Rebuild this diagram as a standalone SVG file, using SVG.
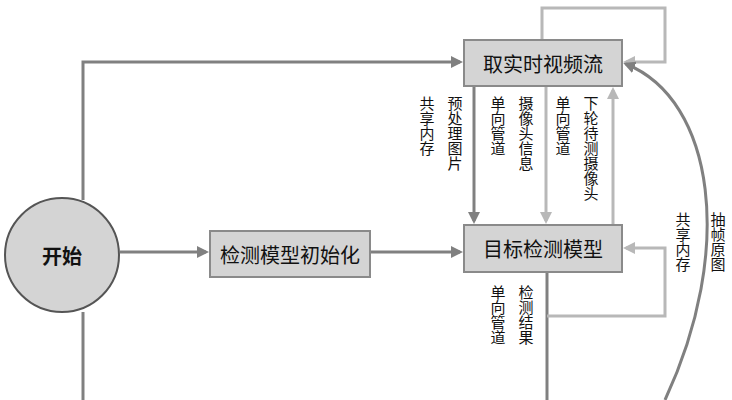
<svg xmlns="http://www.w3.org/2000/svg" width="732" height="400" viewBox="0 0 732 400">
<style>
.box{fill:#d4d4d4;stroke:#8a8a8a;stroke-width:2}
.t{font-family:"Noto Sans CJK SC",sans-serif;font-size:20px;fill:#111;text-anchor:middle;dominant-baseline:central}
.v{font-family:"Noto Sans CJK SC",sans-serif;font-size:15px;fill:#111;writing-mode:vertical-rl;text-orientation:upright}
.d{stroke:#808080;stroke-width:3;fill:none}
.l{stroke:#b8b8b8;stroke-width:3;fill:none}
</style>
<defs>
<marker id="ad" markerWidth="4" markerHeight="4" refX="3" refY="2" orient="auto"><path d="M0,0L4,2L0,4z" fill="#808080"/></marker>
<marker id="al" markerWidth="4" markerHeight="4" refX="3" refY="2" orient="auto"><path d="M0,0L4,2L0,4z" fill="#b8b8b8"/></marker>
</defs>
<rect width="732" height="400" fill="#fff"/>
<g id="connectors">
<path class="d" d="M83,200V62H460" marker-end="url(#ad)"/>
<path class="d" d="M83,312V400"/>
<path class="d" d="M120,252H206" marker-end="url(#ad)"/>
<path class="d" d="M370,252H460" marker-end="url(#ad)"/>
<path class="l" d="M542,40V8H665V62H626" marker-end="url(#al)"/>
<path class="d" d="M474,86V221" marker-end="url(#ad)"/>
<path class="l" d="M546,86V221" marker-end="url(#al)"/>
<path class="l" d="M613,225V90" marker-end="url(#al)"/>
<path class="d" d="M547,272V400"/>
<path class="l" d="M547,316H665V248H626" marker-end="url(#al)"/>
<path class="d" d="M665,400C735,250 715,100 626,64" marker-end="url(#ad)"/>
</g>
<g id="start"><circle cx="62" cy="255" r="57" fill="#d4d4d4" stroke="#555" stroke-width="2"/><text class="t" x="62" y="255" font-weight="bold" font-size="22">开始</text></g>
<g id="init"><rect class="box" x="210" y="231" width="160" height="46"/><text class="t" x="290" y="254">检测模型初始化</text></g>
<g id="stream"><rect class="box" x="464" y="40" width="158" height="46"/><text class="t" x="543" y="63">取实时视频流</text></g>
<g id="detect"><rect class="box" x="464" y="225" width="158" height="47"/><text class="t" x="543" y="248">目标检测模型</text></g>
<g id="labels">
<text class="v" x="427" y="96">共享内存</text>
<text class="v" x="455" y="96">预处理图片</text>
<text class="v" x="498" y="96">单向管道</text>
<text class="v" x="526" y="96">摄像头信息</text>
<text class="v" x="563" y="96">单向管道</text>
<text class="v" x="591" y="96">下轮待测摄像头</text>
<text class="v" x="683" y="212">共享内存</text>
<text class="v" x="718" y="212">抽帧原图</text>
<text class="v" x="498" y="285">单向管道</text>
<text class="v" x="526" y="285">检测结果</text>
</g>
</svg>
